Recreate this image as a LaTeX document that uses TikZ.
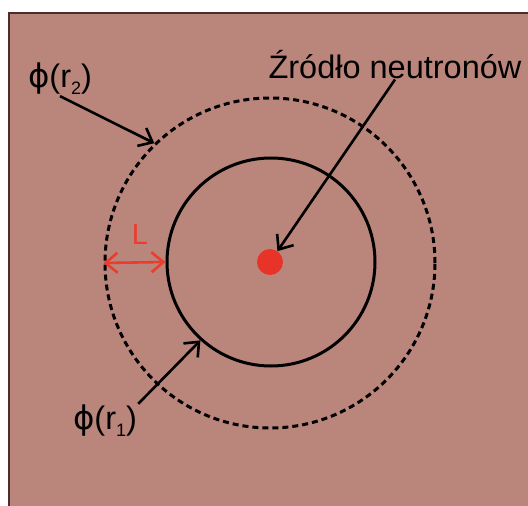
\documentclass[tikz,border=0pt]{standalone}
\usepackage{fontspec}
\setmainfont{Liberation Sans}
\newfontfamily\greekfont{DejaVu Sans}
\usetikzlibrary{arrows.meta}
\definecolor{bgrose}{RGB}{186,134,123}
\definecolor{frameline}{RGB}{75,45,45}
\definecolor{dotred}{RGB}{232,52,40}
\definecolor{lred}{RGB}{235,60,45}
\newcommand{\phisym}{{\greekfont ϕ}}
\newcommand{\lowsub}[1]{\raisebox{-0.22em}{\fontsize{18}{20}\selectfont #1}}

\begin{document}
\begin{tikzpicture}[x=1pt,y=-1pt,
  lbl/.style={inner sep=1pt,font=\fontsize{32.5}{38}\selectfont},
  barb/.tip={Straight Barb[length=12pt,width=20pt,line width=2.6pt]},
  pointer/.style={line width=2.6pt,-barb}]
\useasboundingbox (0,0) rectangle (528,506);
% Draw background and frame
\fill[bgrose] (9,13) rectangle (528,506);
\draw[frameline,line width=1.5pt] (9,506) -- (9,13) -- (528,13);

% Draw circles and source
\node[circle,draw,line width=3pt,dash pattern=on 6pt off 4pt,minimum size=330pt,inner sep=0] (outer) at (270,263) {};
\node[circle,draw,line width=3pt,minimum size=208pt,inner sep=0] (inner) at (271,262) {};
\node[circle,fill=dotred,minimum size=26pt,inner sep=0] (src) at (270,262) {};

% Draw labels
\node[lbl,anchor=base] (srclbl) at (395,78) {Źródło neutronów};
\node[lbl] (phitwo) at (60,79) {\phisym(r\lowsub{2})};
\node[lbl] (phione) at (105,421) {\phisym(r\lowsub{1})};
\node[lbl,text=lred,font=\fontsize{29}{34}\selectfont] (len) at (140,235) {L};

% Draw arrows
\draw[pointer] (srclbl.south) -- (src);
\draw[pointer] (phitwo.south) -- (outer.134);
\draw[pointer] (phione.north east) -- (inner.228);
\draw[lred,line width=2.6pt,barb-barb] (outer.west) -- (inner.west);
\end{tikzpicture}
\end{document}
